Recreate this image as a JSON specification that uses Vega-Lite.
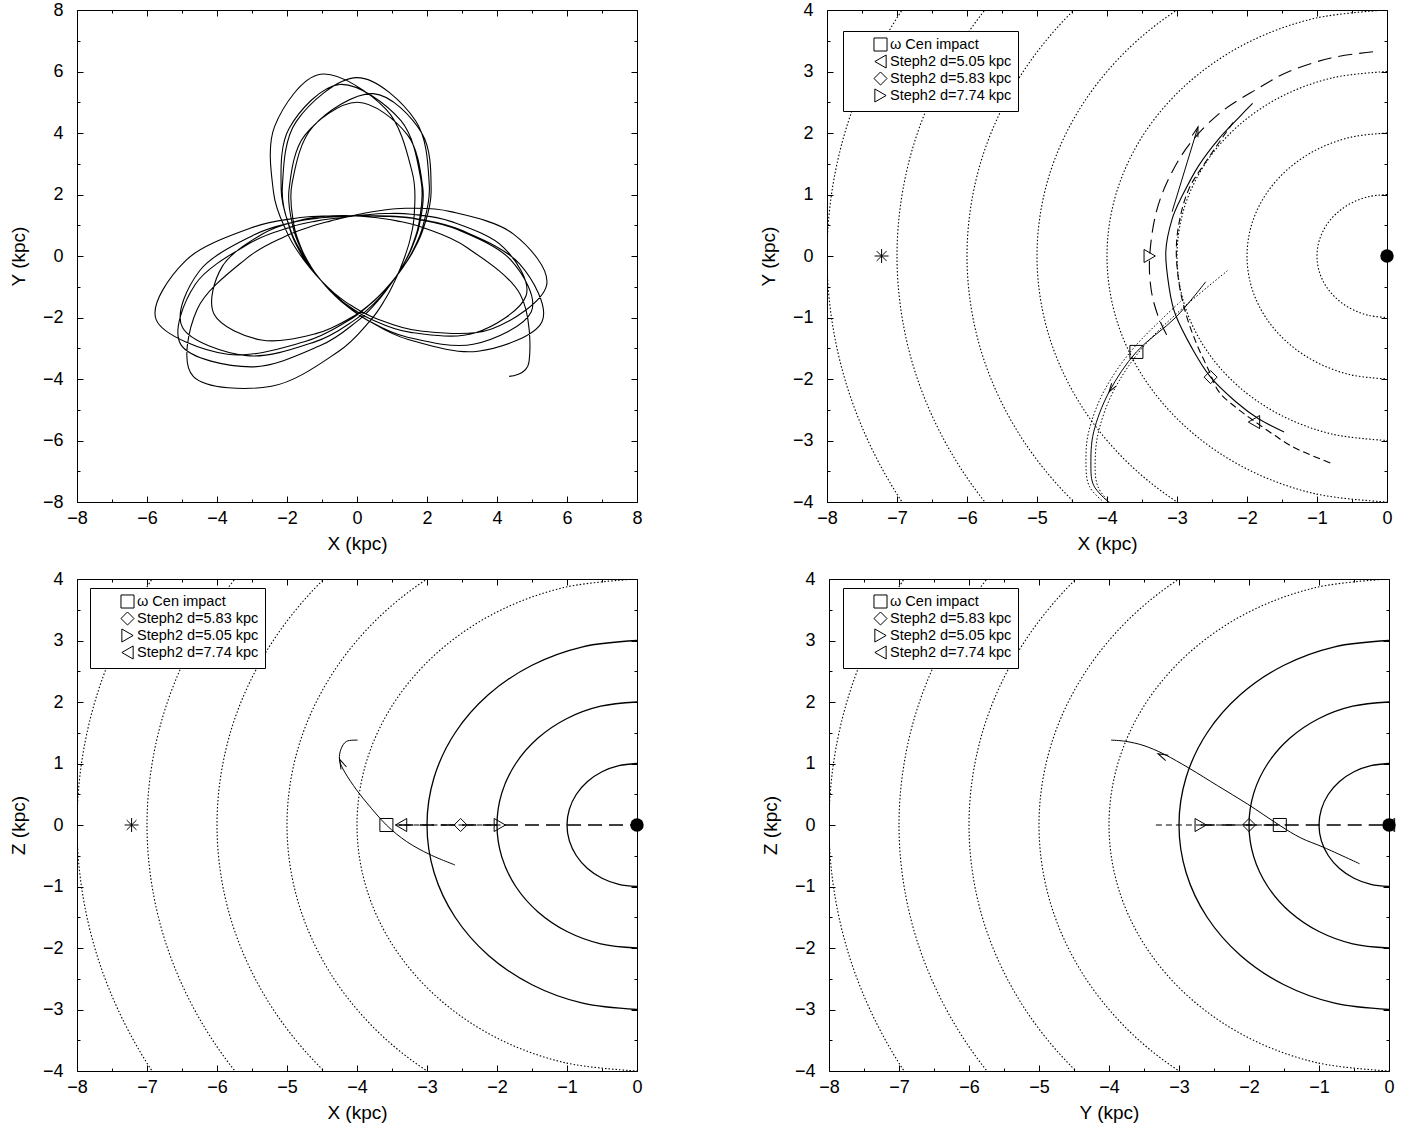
{
"$schema":"https://vega.github.io/schema/vega-lite/v6.json",
"background":"white",
"padding":{"left":8,"top":0,"right":5,"bottom":3},
"config":{"view":{"stroke":"black","strokeWidth":1},
"axis":{"grid":false,"domain":false,"tickColor":"black","tickWidth":1,"labelFont":"Liberation Sans","labelFontSize":18,"labelColor":"black","titleFont":"Liberation Sans","titleFontSize":19,"titleFontWeight":"normal","titleColor":"black","labelFlush":false,"labelOverlap":false}},
"datasets":{
"circles":[
{"r":1,"x":0,"y":1},{"r":1,"x":-0.259,"y":0.966},{"r":1,"x":-0.5,"y":0.866},{"r":1,"x":-0.707,"y":0.707},{"r":1,"x":-0.866,"y":0.5},{"r":1,"x":-0.966,"y":0.259},{"r":1,"x":-1,"y":0},{"r":1,"x":-0.966,"y":-0.259},{"r":1,"x":-0.866,"y":-0.5},{"r":1,"x":-0.707,"y":-0.707},{"r":1,"x":-0.5,"y":-0.866},{"r":1,"x":-0.259,"y":-0.966},{"r":1,"x":0,"y":-1},
{"r":2,"x":0,"y":2},{"r":2,"x":-0.518,"y":1.932},{"r":2,"x":-1,"y":1.732},{"r":2,"x":-1.414,"y":1.414},{"r":2,"x":-1.732,"y":1},{"r":2,"x":-1.932,"y":0.518},{"r":2,"x":-2,"y":0},{"r":2,"x":-1.932,"y":-0.518},{"r":2,"x":-1.732,"y":-1},{"r":2,"x":-1.414,"y":-1.414},{"r":2,"x":-1,"y":-1.732},{"r":2,"x":-0.518,"y":-1.932},{"r":2,"x":0,"y":-2},
{"r":3,"x":0,"y":3},{"r":3,"x":-0.776,"y":2.898},{"r":3,"x":-1.5,"y":2.598},{"r":3,"x":-2.121,"y":2.121},{"r":3,"x":-2.598,"y":1.5},{"r":3,"x":-2.898,"y":0.776},{"r":3,"x":-3,"y":0},{"r":3,"x":-2.898,"y":-0.776},{"r":3,"x":-2.598,"y":-1.5},{"r":3,"x":-2.121,"y":-2.121},{"r":3,"x":-1.5,"y":-2.598},{"r":3,"x":-0.776,"y":-2.898},{"r":3,"x":0,"y":-3},
{"r":4,"x":0,"y":4},{"r":4,"x":-1.035,"y":3.864},{"r":4,"x":-2,"y":3.464},{"r":4,"x":-2.828,"y":2.828},{"r":4,"x":-3.464,"y":2},{"r":4,"x":-3.864,"y":1.035},{"r":4,"x":-4,"y":0},{"r":4,"x":-3.864,"y":-1.035},{"r":4,"x":-3.464,"y":-2},{"r":4,"x":-2.828,"y":-2.828},{"r":4,"x":-2,"y":-3.464},{"r":4,"x":-1.035,"y":-3.864},{"r":4,"x":0,"y":-4},
{"r":5,"x":0,"y":5},{"r":5,"x":-1.294,"y":4.83},{"r":5,"x":-2.5,"y":4.33},{"r":5,"x":-3.536,"y":3.536},{"r":5,"x":-4.33,"y":2.5},{"r":5,"x":-4.83,"y":1.294},{"r":5,"x":-5,"y":0},{"r":5,"x":-4.83,"y":-1.294},{"r":5,"x":-4.33,"y":-2.5},{"r":5,"x":-3.536,"y":-3.536},{"r":5,"x":-2.5,"y":-4.33},{"r":5,"x":-1.294,"y":-4.83},{"r":5,"x":0,"y":-5},
{"r":6,"x":0,"y":6},{"r":6,"x":-1.553,"y":5.796},{"r":6,"x":-3,"y":5.196},{"r":6,"x":-4.243,"y":4.243},{"r":6,"x":-5.196,"y":3},{"r":6,"x":-5.796,"y":1.553},{"r":6,"x":-6,"y":0},{"r":6,"x":-5.796,"y":-1.553},{"r":6,"x":-5.196,"y":-3},{"r":6,"x":-4.243,"y":-4.243},{"r":6,"x":-3,"y":-5.196},{"r":6,"x":-1.553,"y":-5.796},{"r":6,"x":0,"y":-6},
{"r":7,"x":0,"y":7},{"r":7,"x":-1.812,"y":6.761},{"r":7,"x":-3.5,"y":6.062},{"r":7,"x":-4.95,"y":4.95},{"r":7,"x":-6.062,"y":3.5},{"r":7,"x":-6.761,"y":1.812},{"r":7,"x":-7,"y":0},{"r":7,"x":-6.761,"y":-1.812},{"r":7,"x":-6.062,"y":-3.5},{"r":7,"x":-4.95,"y":-4.95},{"r":7,"x":-3.5,"y":-6.062},{"r":7,"x":-1.812,"y":-6.761},{"r":7,"x":0,"y":-7},
{"r":8,"x":0,"y":8},{"r":8,"x":-2.071,"y":7.727},{"r":8,"x":-4,"y":6.928},{"r":8,"x":-5.657,"y":5.657},{"r":8,"x":-6.928,"y":4},{"r":8,"x":-7.727,"y":2.071},{"r":8,"x":-8,"y":0},{"r":8,"x":-7.727,"y":-2.071},{"r":8,"x":-6.928,"y":-4},{"r":8,"x":-5.657,"y":-5.657},{"r":8,"x":-4,"y":-6.928},{"r":8,"x":-2.071,"y":-7.727},{"r":8,"x":0,"y":-8}
],
"orbit":[
{"x":-1.065,"y":-0.746},{"x":-1.324,"y":-0.355},{"x":-1.603,"y":0.14},{"x":-1.912,"y":0.892},{"x":-2.167,"y":2.167},{"x":-1.937,"y":4.155},{"x":-0.488,"y":5.579},
{"x":1.25,"y":4.408},{"x":1.829,"y":2.456},{"x":1.78,"y":1.134},{"x":1.574,"y":0.325},{"x":1.353,"y":-0.219},{"x":1.126,"y":-0.65},{"x":0.865,"y":-1.061},{"x":0.505,"y":-1.524},{"x":-0.092,"y":-2.101},{"x":-1.204,"y":-2.792},{"x":-3.148,"y":-3.241},{"x":-4.985,"y":-2.324},
{"x":-4.496,"y":-0.479},{"x":-2.964,"y":0.675},{"x":-1.787,"y":1.106},{"x":-1.018,"y":1.242},{"x":-0.478,"y":1.284},{"x":-0.034,"y":1.3},{"x":0.41,"y":1.307},{"x":0.954,"y":1.297},{"x":1.739,"y":1.206},{"x":2.971,"y":0.842},{"x":4.639,"y":-0.25},{"x":5.285,"y":-2.135},
{"x":3.458,"y":-3.096},{"x":1.464,"y":-2.716},{"x":0.313,"y":-2.094},{"x":-0.316,"y":-1.578},{"x":-0.709,"y":-1.172},{"x":-1.01,"y":-0.818},{"x":-1.295,"y":-0.45},{"x":-1.617,"y":0.023},{"x":-1.997,"y":0.76},{"x":-2.384,"y":2.06},{"x":-2.353,"y":4.215},
{"x":-1.042,"y":5.909},{"x":0.839,"y":4.757},{"x":1.576,"y":2.73},{"x":1.637,"y":1.374},{"x":1.52,"y":0.553},{"x":1.372,"y":0},{"x":1.222,"y":-0.445},{"x":1.051,"y":-0.882},{"x":0.809,"y":-1.401},{"x":0.372,"y":-2.11},{"x":-0.551,"y":-3.124},{"x":-2.445,"y":-4.235},{"x":-4.673,"y":-3.921},
{"x":-4.568,"y":-1.738},{"x":-3.171,"y":-0.092},{"x":-2.044,"y":0.644},{"x":-1.297,"y":0.965},{"x":-0.77,"y":1.135},{"x":-0.336,"y":1.256},{"x":0.1,"y":1.366},{"x":0.636,"y":1.474},{"x":1.421,"y":1.551},{"x":2.676,"y":1.443},{"x":4.463,"y":0.721},{"x":5.416,"y":-0.955},
{"x":3.845,"y":-2.372},{"x":1.816,"y":-2.439},{"x":0.544,"y":-2.031},{"x":-0.187,"y":-1.596},{"x":-0.65,"y":-1.205},{"x":-0.996,"y":-0.836},{"x":-1.3,"y":-0.431},{"x":-1.61,"y":0.094},{"x":-1.925,"y":0.898},{"x":-2.132,"y":2.26},{"x":-1.737,"y":4.371},{"x":0,"y":5.8},
{"x":1.674,"y":4.4},{"x":2.065,"y":2.32},{"x":1.884,"y":0.981},{"x":1.602,"y":0.187},{"x":1.329,"y":-0.336},{"x":1.065,"y":-0.746},{"x":0.77,"y":-1.135},{"x":0.373,"y":-1.573},{"x":-0.28,"y":-2.125},{"x":-1.504,"y":-2.789},{"x":-3.698,"y":-3.196},{"x":-5.732,"y":-2.086},
{"x":-4.888,"y":-0.142},{"x":-3.036,"y":0.909},{"x":-1.756,"y":1.229},{"x":-0.965,"y":1.297},{"x":-0.431,"y":1.301},{"x":0,"y":1.3},{"x":0.43,"y":1.299},{"x":0.956,"y":1.284},{"x":1.71,"y":1.198},{"x":2.87,"y":0.859},{"x":4.392,"y":-0.128},{"x":4.98,"y":-1.813},
{"x":3.323,"y":-2.871},{"x":1.42,"y":-2.635},{"x":0.272,"y":-2.07},{"x":-0.369,"y":-1.557},{"x":-0.769,"y":-1.132},{"x":-1.065,"y":-0.746},{"x":-1.326,"y":-0.335},{"x":-1.584,"y":0.185},{"x":-1.831,"y":0.953},{"x":-1.94,"y":2.18},{"x":-1.493,"y":3.924},{"x":0,"y":5.0},
{"x":1.436,"y":3.946},{"x":1.878,"y":2.238},{"x":1.787,"y":1.032},{"x":1.571,"y":0.277},{"x":1.347,"y":-0.237},{"x":1.126,"y":-0.65},{"x":0.881,"y":-1.05},{"x":0.552,"y":-1.516},{"x":0,"y":-2.124},{"x":-1.063,"y":-2.921},{"x":-3.026,"y":-3.606},{"x":-5.023,"y":-2.9},
{"x":-4.618,"y":-0.919},{"x":-3.082,"y":0.406},{"x":-1.904,"y":0.939},{"x":-1.141,"y":1.141},{"x":-0.606,"y":1.229},{"x":-0.17,"y":1.289},{"x":0.267,"y":1.342},{"x":0.798,"y":1.381},{"x":1.551,"y":1.36},{"x":2.699,"y":1.118},{"x":4.19,"y":0.275},{"x":4.83,"y":-1.294},
{"x":3.365,"y":-2.506},{"x":1.532,"y":-2.484},{"x":0.358,"y":-2.033},{"x":-0.322,"y":-1.561},{"x":-0.751,"y":-1.142},{"x":-1.065,"y":-0.746},{"x":-1.331,"y":-0.315},{"x":-1.584,"y":0.232},{"x":-1.808,"y":1.044},{"x":-1.857,"y":2.348},{"x":-1.259,"y":4.206},{"x":0.462,"y":5.28},
{"x":1.857,"y":3.982},{"x":2.118,"y":2.118},{"x":1.892,"y":0.882},{"x":1.596,"y":0.14},{"x":1.322,"y":-0.354},{"x":1.065,"y":-0.746},{"x":0.783,"y":-1.118},{"x":0.409,"y":-1.527},{"x":-0.176,"y":-2.009},{"x":-1.177,"y":-2.525},{"x":-2.732,"y":-2.732},{"x":-4.078,"y":-1.902},
{"x":-3.848,"y":-0.337},{"x":-2.691,"y":0.721},{"x":-1.652,"y":1.157},{"x":-0.907,"y":1.295},{"x":-0.353,"y":1.318},{"x":0.113,"y":1.295},{"x":0.58,"y":1.243},{"x":1.143,"y":1.143},{"x":1.937,"y":0.903},{"x":3.14,"y":0.275},{"x":4.665,"y":-1.25},{"x":4.915,"y":-3.442},{"x":4.347,"y":-3.914}
]
},
"spacing":15,
"resolve":{"scale":{"shape":"independent"},"legend":{"shape":"independent"}},
"vconcat":[
{"spacing":115,
"resolve":{"scale":{"shape":"independent"},"legend":{"shape":"independent"}},
"hconcat":[
{"width":560,"height":492,
"resolve":{"axis":{"x":"independent","y":"independent"}},
"encoding":{"x":{"field":"x","type":"quantitative","scale":{"domain":[-8,8],"nice":false,"zero":false},"axis":null},"y":{"field":"y","type":"quantitative","scale":{"domain":[-8,8],"nice":false,"zero":false},"axis":null}},
"layer":[
{"data":{"name":"orbit"},"mark":{"type":"line","interpolate":"cardinal","color":"black","strokeWidth":1.1,"clip":true},
"encoding":{"order":{"value":null},
"x":{"field":"x","type":"quantitative","axis":{"orient":"bottom","values":[-8,-6,-4,-2,0,2,4,6,8],"tickSize":-6,"labelPadding":13,"format":"d","title":"X (kpc)","titlePadding":7}},
"y":{"field":"y","type":"quantitative","axis":{"orient":"left","values":[-8,-6,-4,-2,0,2,4,6,8],"tickSize":-6,"labelPadding":20,"format":"d","title":"Y (kpc)","titlePadding":14}}}},
{"data":{"values":[]},"mark":"point","encoding":{
"x":{"field":"x","type":"quantitative","axis":{"orient":"bottom","values":[-7,-5,-3,-1,1,3,5,7],"tickSize":-3,"labels":false,"title":null}},
"y":{"field":"y","type":"quantitative","axis":{"orient":"left","values":[-7,-5,-3,-1,1,3,5,7],"tickSize":-3,"labels":false,"title":null}}}},
{"data":{"values":[]},"mark":"point","encoding":{
"x":{"field":"x","type":"quantitative","axis":{"orient":"top","values":[-8,-6,-4,-2,0,2,4,6,8],"tickSize":-6,"labels":false,"title":null}},
"y":{"field":"y","type":"quantitative","axis":{"orient":"right","values":[-8,-6,-4,-2,0,2,4,6,8],"tickSize":-6,"labels":false,"title":null}}}},
{"data":{"values":[]},"mark":"point","encoding":{
"x":{"field":"x","type":"quantitative","axis":{"orient":"top","values":[-7,-5,-3,-1,1,3,5,7],"tickSize":-3,"labels":false,"title":null}},
"y":{"field":"y","type":"quantitative","axis":{"orient":"right","values":[-7,-5,-3,-1,1,3,5,7],"tickSize":-3,"labels":false,"title":null}}}}
]},
{"width":560,"height":492,
"resolve":{"axis":{"x":"independent","y":"independent"}},
"encoding":{"x":{"field":"x","type":"quantitative","scale":{"domain":[-8,0],"nice":false,"zero":false},"axis":null},"y":{"field":"y","type":"quantitative","scale":{"domain":[-4,4],"nice":false,"zero":false},"axis":null}},
"layer":[
{"data":{"name":"circles"},"mark":{"type":"line","interpolate":"cardinal","color":"black","strokeWidth":1.1,"strokeDash":[1.5,2],"clip":true},
"encoding":{"detail":{"field":"r"},"order":{"value":null},
"x":{"field":"x","type":"quantitative","axis":{"orient":"bottom","values":[-8,-7,-6,-5,-4,-3,-2,-1,0],"tickSize":-6,"labelPadding":13,"format":"d","title":"X (kpc)","titlePadding":7}},
"y":{"field":"y","type":"quantitative","axis":{"orient":"left","values":[-4,-3,-2,-1,0,1,2,3,4],"tickSize":-6,"labelPadding":20,"format":"d","title":"Y (kpc)","titlePadding":14}}}},
{"data":{"values":[{"k":"a","x":-2.28,"y":-0.24},{"k":"a","x":-2.95,"y":-0.88},{"k":"a","x":-3.5,"y":-1.5},{"k":"a","x":-3.9,"y":-2.18},{"k":"a","x":-4.12,"y":-2.85},{"k":"a","x":-4.17,"y":-3.4},{"k":"a","x":-4.13,"y":-3.75},{"k":"a","x":-3.97,"y":-4.0},
{"k":"b","x":-2.95,"y":-0.74},{"k":"b","x":-3.6,"y":-1.47},{"k":"b","x":-4.03,"y":-2.17},{"k":"b","x":-4.26,"y":-2.85},{"k":"b","x":-4.3,"y":-3.4},{"k":"b","x":-4.25,"y":-3.75},{"k":"b","x":-4.05,"y":-4.0}]},
"mark":{"type":"line","interpolate":"cardinal","color":"black","strokeWidth":1,"strokeDash":[1.5,2],"clip":true},"encoding":{"detail":{"field":"k"},"order":{"value":null}}},
{"data":{"values":[{"x":-2.59,"y":-0.42},{"x":-3.02,"y":-1.0},{"x":-3.58,"y":-1.56},{"x":-3.97,"y":-2.21},{"x":-4.19,"y":-2.86},{"x":-4.23,"y":-3.4},{"x":-4.19,"y":-3.73},{"x":-4.0,"y":-3.98}]},
"mark":{"type":"line","interpolate":"cardinal","color":"black","strokeWidth":1,"clip":true},"encoding":{"order":{"value":null}}},
{"data":{"values":[{"x":-0.2,"y":3.32},{"x":-0.8,"y":3.22},{"x":-1.4,"y":3.0},{"x":-1.85,"y":2.72},{"x":-2.36,"y":2.35},{"x":-2.8,"y":1.85},{"x":-3.1,"y":1.3},{"x":-3.3,"y":0.7},{"x":-3.39,"y":0.0},{"x":-3.37,"y":-0.54},{"x":-3.27,"y":-0.98},{"x":-3.14,"y":-1.3}]},
"mark":{"type":"line","interpolate":"cardinal","color":"black","strokeWidth":1.1,"strokeDash":[14,7],"clip":true},"encoding":{"order":{"value":null}}},
{"data":{"values":[{"x":-1.92,"y":2.48},{"x":-2.11,"y":2.26},{"x":-2.4,"y":1.91},{"x":-2.69,"y":1.47},{"x":-2.92,"y":0.99},{"x":-3.07,"y":0.6},{"x":-3.16,"y":0.07},{"x":-3.11,"y":-0.53},{"x":-3.02,"y":-0.96},{"x":-2.78,"y":-1.51},{"x":-2.52,"y":-1.97},{"x":-2.16,"y":-2.37},{"x":-1.83,"y":-2.65},{"x":-1.47,"y":-2.86}]},
"mark":{"type":"line","interpolate":"cardinal","color":"black","strokeWidth":1.1,"clip":true},"encoding":{"order":{"value":null}}},
{"data":{"values":[{"x":-2.2,"y":2.17},{"x":-2.59,"y":1.53},{"x":-2.83,"y":1.09},{"x":-2.96,"y":0.6},{"x":-3.01,"y":0.1},{"x":-2.97,"y":-0.45},{"x":-2.87,"y":-0.95},{"x":-2.73,"y":-1.4},{"x":-2.55,"y":-1.85},{"x":-2.4,"y":-2.21},{"x":-2.15,"y":-2.47},{"x":-1.9,"y":-2.68},{"x":-1.6,"y":-2.92},{"x":-1.3,"y":-3.13},{"x":-0.78,"y":-3.38}]},
"mark":{"type":"line","interpolate":"cardinal","color":"black","strokeWidth":1.1,"strokeDash":[7,4],"clip":true},"encoding":{"order":{"value":null}}},
{"data":{"values":[{"x":-3.07,"y":0.72},{"x":-2.7,"y":2.1}]},
"mark":{"type":"line","color":"black","strokeWidth":1,"clip":true},"encoding":{"order":{"value":null}}},
{"data":{"values":[{"x":-2.7,"y":2.1}]},"mark":{"type":"point","shape":"M-0.3,1L0,0L0.3,1","size":400,"filled":false,"color":"black","strokeWidth":1,"opacity":1,"angle":17}},
{"data":{"values":[{"x":-3.97,"y":-2.21}]},"mark":{"type":"point","shape":"M-0.3,1L0,0L0.3,1","size":300,"filled":false,"color":"black","strokeWidth":1,"opacity":1,"angle":213}},
{"data":{"values":[{"x":-7.22,"y":0}]},"mark":{"type":"point","shape":"M-1,0L1,0M0,-1L0,1M-0.7,-0.7L0.7,0.7M-0.7,0.7L0.7,-0.7","size":196,"filled":false,"color":"black","strokeWidth":1,"opacity":1}},
{"data":{"values":[{"label":"ω Cen impact","x":-3.58,"y":-1.56},{"label":"Steph2 d=5.05 kpc","x":-1.9,"y":-2.7},{"label":"Steph2 d=5.83 kpc","x":-2.52,"y":-1.97},{"label":"Steph2 d=7.74 kpc","x":-3.39,"y":0}]},
"mark":{"type":"point","filled":false,"color":"black","size":170,"strokeWidth":1,"opacity":1},
"encoding":{"shape":{"field":"label","type":"nominal","scale":{"domain":["ω Cen impact","Steph2 d=5.05 kpc","Steph2 d=5.83 kpc","Steph2 d=7.74 kpc"],"range":["square","triangle-left","diamond","triangle-right"]},
"legend":{"title":null,"orient":"none","legendX":16,"legendY":21,"strokeColor":"black","fillColor":"white","padding":6,"cornerRadius":0,"labelFont":"Liberation Sans","labelFontSize":14.5,"labelColor":"black","symbolSize":170,"symbolStrokeWidth":1,"symbolStrokeColor":"black","symbolFillColor":"transparent","symbolOffset":24,"labelOffset":2,"rowPadding":-2}}}},
{"data":{"values":[{"x":0,"y":0}]},"mark":{"type":"point","shape":"circle","filled":true,"size":180,"color":"black","opacity":1}},
{"data":{"values":[]},"mark":"point","encoding":{
"x":{"field":"x","type":"quantitative","axis":{"orient":"bottom","values":[-7.5,-6.5,-5.5,-4.5,-3.5,-2.5,-1.5,-0.5],"tickSize":-3,"labels":false,"title":null}},
"y":{"field":"y","type":"quantitative","axis":{"orient":"left","values":[-3.5,-2.5,-1.5,-0.5,0.5,1.5,2.5,3.5],"tickSize":-3,"labels":false,"title":null}}}},
{"data":{"values":[]},"mark":"point","encoding":{
"x":{"field":"x","type":"quantitative","axis":{"orient":"top","values":[-8,-7,-6,-5,-4,-3,-2,-1,0],"tickSize":-6,"labels":false,"title":null}},
"y":{"field":"y","type":"quantitative","axis":{"orient":"right","values":[-4,-3,-2,-1,0,1,2,3,4],"tickSize":-6,"labels":false,"title":null}}}},
{"data":{"values":[]},"mark":"point","encoding":{
"x":{"field":"x","type":"quantitative","axis":{"orient":"top","values":[-7.5,-6.5,-5.5,-4.5,-3.5,-2.5,-1.5,-0.5],"tickSize":-3,"labels":false,"title":null}},
"y":{"field":"y","type":"quantitative","axis":{"orient":"right","values":[-3.5,-2.5,-1.5,-0.5,0.5,1.5,2.5,3.5],"tickSize":-3,"labels":false,"title":null}}}}
]}
]},
{"spacing":115,
"resolve":{"scale":{"shape":"independent"},"legend":{"shape":"independent"}},
"hconcat":[
{"width":560,"height":492,
"resolve":{"axis":{"x":"independent","y":"independent"}},
"encoding":{"x":{"field":"x","type":"quantitative","scale":{"domain":[-8,0],"nice":false,"zero":false},"axis":null},"y":{"field":"y","type":"quantitative","scale":{"domain":[-4,4],"nice":false,"zero":false},"axis":null}},
"layer":[
{"data":{"name":"circles"},"transform":[{"filter":"datum.r >= 4"}],"mark":{"type":"line","interpolate":"cardinal","color":"black","strokeWidth":1.1,"strokeDash":[1.5,2],"clip":true},
"encoding":{"detail":{"field":"r"},"order":{"value":null},
"x":{"field":"x","type":"quantitative","axis":{"orient":"bottom","values":[-8,-7,-6,-5,-4,-3,-2,-1,0],"tickSize":-6,"labelPadding":13,"format":"d","title":"X (kpc)","titlePadding":7}},
"y":{"field":"y","type":"quantitative","axis":{"orient":"left","values":[-4,-3,-2,-1,0,1,2,3,4],"tickSize":-6,"labelPadding":20,"format":"d","title":"Z (kpc)","titlePadding":14}}}},
{"data":{"name":"circles"},"transform":[{"filter":"datum.r <= 3"}],"mark":{"type":"line","interpolate":"cardinal","color":"black","strokeWidth":1.3,"clip":true},"encoding":{"detail":{"field":"r"},"order":{"value":null}}},
{"data":{"values":[{"x":-3.99,"y":1.38},{"x":-4.15,"y":1.36},{"x":-4.23,"y":1.23},{"x":-4.25,"y":1.07},{"x":-4.2,"y":0.91},{"x":-4.05,"y":0.64},{"x":-3.86,"y":0.36},{"x":-3.58,"y":0.0},{"x":-3.29,"y":-0.27},{"x":-2.96,"y":-0.48},{"x":-2.6,"y":-0.65}]},
"mark":{"type":"line","interpolate":"cardinal","color":"black","strokeWidth":1,"clip":true},"encoding":{"order":{"value":null}}},
{"data":{"values":[{"x":-3.45,"y":0},{"x":-1.95,"y":0}]},"mark":{"type":"line","color":"black","strokeWidth":1.1,"strokeDash":[6,3],"clip":true},"encoding":{"order":{"value":null}}},
{"data":{"values":[{"x":-3.4,"y":0},{"x":0,"y":0}]},"mark":{"type":"line","color":"black","strokeWidth":1.3,"strokeDash":[14,7],"clip":true},"encoding":{"order":{"value":null}}},
{"data":{"values":[{"x":-4.25,"y":1.07}]},"mark":{"type":"point","shape":"M-0.3,1L0,0L0.3,1","size":400,"filled":false,"color":"black","strokeWidth":1,"opacity":1,"angle":335}},
{"data":{"values":[{"x":-7.22,"y":0}]},"mark":{"type":"point","shape":"M-1,0L1,0M0,-1L0,1M-0.7,-0.7L0.7,0.7M-0.7,0.7L0.7,-0.7","size":196,"filled":false,"color":"black","strokeWidth":1,"opacity":1}},
{"data":{"values":[{"label":"ω Cen impact","x":-3.58,"y":0},{"label":"Steph2 d=7.74 kpc","x":-3.37,"y":0},{"label":"Steph2 d=5.83 kpc","x":-2.52,"y":0},{"label":"Steph2 d=5.05 kpc","x":-1.96,"y":0}]},
"mark":{"type":"point","filled":false,"color":"black","size":170,"strokeWidth":1,"opacity":1},
"encoding":{"shape":{"field":"label","type":"nominal","scale":{"domain":["ω Cen impact","Steph2 d=5.83 kpc","Steph2 d=5.05 kpc","Steph2 d=7.74 kpc"],"range":["square","diamond","triangle-right","triangle-left"]},
"legend":{"title":null,"orient":"none","legendX":13,"legendY":9,"strokeColor":"black","fillColor":"white","padding":6,"cornerRadius":0,"labelFont":"Liberation Sans","labelFontSize":14.5,"labelColor":"black","symbolSize":170,"symbolStrokeWidth":1,"symbolStrokeColor":"black","symbolFillColor":"transparent","symbolOffset":24,"labelOffset":2,"rowPadding":-2}}}},
{"data":{"values":[{"x":0,"y":0}]},"mark":{"type":"point","shape":"circle","filled":true,"size":180,"color":"black","opacity":1}},
{"data":{"values":[]},"mark":"point","encoding":{
"x":{"field":"x","type":"quantitative","axis":{"orient":"bottom","values":[-7.5,-6.5,-5.5,-4.5,-3.5,-2.5,-1.5,-0.5],"tickSize":-3,"labels":false,"title":null}},
"y":{"field":"y","type":"quantitative","axis":{"orient":"left","values":[-3.5,-2.5,-1.5,-0.5,0.5,1.5,2.5,3.5],"tickSize":-3,"labels":false,"title":null}}}},
{"data":{"values":[]},"mark":"point","encoding":{
"x":{"field":"x","type":"quantitative","axis":{"orient":"top","values":[-8,-7,-6,-5,-4,-3,-2,-1,0],"tickSize":-6,"labels":false,"title":null}},
"y":{"field":"y","type":"quantitative","axis":{"orient":"right","values":[-4,-3,-2,-1,0,1,2,3,4],"tickSize":-6,"labels":false,"title":null}}}},
{"data":{"values":[]},"mark":"point","encoding":{
"x":{"field":"x","type":"quantitative","axis":{"orient":"top","values":[-7.5,-6.5,-5.5,-4.5,-3.5,-2.5,-1.5,-0.5],"tickSize":-3,"labels":false,"title":null}},
"y":{"field":"y","type":"quantitative","axis":{"orient":"right","values":[-3.5,-2.5,-1.5,-0.5,0.5,1.5,2.5,3.5],"tickSize":-3,"labels":false,"title":null}}}}
]},
{"width":560,"height":492,
"resolve":{"axis":{"x":"independent","y":"independent"}},
"encoding":{"x":{"field":"x","type":"quantitative","scale":{"domain":[-8,0],"nice":false,"zero":false},"axis":null},"y":{"field":"y","type":"quantitative","scale":{"domain":[-4,4],"nice":false,"zero":false},"axis":null}},
"layer":[
{"data":{"name":"circles"},"transform":[{"filter":"datum.r >= 4"}],"mark":{"type":"line","interpolate":"cardinal","color":"black","strokeWidth":1.1,"strokeDash":[1.5,2],"clip":true},
"encoding":{"detail":{"field":"r"},"order":{"value":null},
"x":{"field":"x","type":"quantitative","axis":{"orient":"bottom","values":[-8,-7,-6,-5,-4,-3,-2,-1,0],"tickSize":-6,"labelPadding":13,"format":"d","title":"Y (kpc)","titlePadding":7}},
"y":{"field":"y","type":"quantitative","axis":{"orient":"left","values":[-4,-3,-2,-1,0,1,2,3,4],"tickSize":-6,"labelPadding":20,"format":"d","title":"Z (kpc)","titlePadding":14}}}},
{"data":{"name":"circles"},"transform":[{"filter":"datum.r <= 3"}],"mark":{"type":"line","interpolate":"cardinal","color":"black","strokeWidth":1.3,"clip":true},"encoding":{"detail":{"field":"r"},"order":{"value":null}}},
{"data":{"values":[{"x":-3.97,"y":1.38},{"x":-3.76,"y":1.36},{"x":-3.5,"y":1.29},{"x":-3.21,"y":1.15},{"x":-2.85,"y":0.92},{"x":-2.45,"y":0.64},{"x":-2.02,"y":0.34},{"x":-1.57,"y":0.0},{"x":-1.26,"y":-0.21},{"x":-0.92,"y":-0.37},{"x":-0.42,"y":-0.63}]},
"mark":{"type":"line","interpolate":"cardinal","color":"black","strokeWidth":1,"clip":true},"encoding":{"order":{"value":null}}},
{"data":{"values":[{"x":-3.33,"y":0},{"x":-1.56,"y":0}]},"mark":{"type":"line","color":"black","strokeWidth":1.1,"strokeDash":[6,4],"clip":true},"encoding":{"order":{"value":null}}},
{"data":{"values":[{"x":-2.69,"y":0},{"x":0,"y":0}]},"mark":{"type":"line","color":"black","strokeWidth":1.3,"strokeDash":[14,7],"clip":true},"encoding":{"order":{"value":null}}},
{"data":{"values":[{"x":-3.3,"y":1.16}]},"mark":{"type":"point","shape":"M-0.3,1L0,0L0.3,1","size":400,"filled":false,"color":"black","strokeWidth":1,"opacity":1,"angle":296}},
{"data":{"values":[{"label":"ω Cen impact","x":-1.56,"y":0},{"label":"Steph2 d=5.83 kpc","x":-2.0,"y":0},{"label":"Steph2 d=5.05 kpc","x":-2.69,"y":0},{"label":"Steph2 d=7.74 kpc","x":0,"y":0}]},
"mark":{"type":"point","filled":false,"color":"black","size":170,"strokeWidth":1,"opacity":1},
"encoding":{"shape":{"field":"label","type":"nominal","scale":{"domain":["ω Cen impact","Steph2 d=5.83 kpc","Steph2 d=5.05 kpc","Steph2 d=7.74 kpc"],"range":["square","diamond","triangle-right","triangle-left"]},
"legend":{"title":null,"orient":"none","legendX":14,"legendY":9,"strokeColor":"black","fillColor":"white","padding":6,"cornerRadius":0,"labelFont":"Liberation Sans","labelFontSize":14.5,"labelColor":"black","symbolSize":170,"symbolStrokeWidth":1,"symbolStrokeColor":"black","symbolFillColor":"transparent","symbolOffset":24,"labelOffset":2,"rowPadding":-2}}}},
{"data":{"values":[{"x":0,"y":0}]},"mark":{"type":"point","shape":"circle","filled":true,"size":180,"color":"black","opacity":1}},
{"data":{"values":[]},"mark":"point","encoding":{
"x":{"field":"x","type":"quantitative","axis":{"orient":"bottom","values":[-7.5,-6.5,-5.5,-4.5,-3.5,-2.5,-1.5,-0.5],"tickSize":-3,"labels":false,"title":null}},
"y":{"field":"y","type":"quantitative","axis":{"orient":"left","values":[-3.5,-2.5,-1.5,-0.5,0.5,1.5,2.5,3.5],"tickSize":-3,"labels":false,"title":null}}}},
{"data":{"values":[]},"mark":"point","encoding":{
"x":{"field":"x","type":"quantitative","axis":{"orient":"top","values":[-8,-7,-6,-5,-4,-3,-2,-1,0],"tickSize":-6,"labels":false,"title":null}},
"y":{"field":"y","type":"quantitative","axis":{"orient":"right","values":[-4,-3,-2,-1,0,1,2,3,4],"tickSize":-6,"labels":false,"title":null}}}},
{"data":{"values":[]},"mark":"point","encoding":{
"x":{"field":"x","type":"quantitative","axis":{"orient":"top","values":[-7.5,-6.5,-5.5,-4.5,-3.5,-2.5,-1.5,-0.5],"tickSize":-3,"labels":false,"title":null}},
"y":{"field":"y","type":"quantitative","axis":{"orient":"right","values":[-3.5,-2.5,-1.5,-0.5,0.5,1.5,2.5,3.5],"tickSize":-3,"labels":false,"title":null}}}}
]}
]}
]
}
